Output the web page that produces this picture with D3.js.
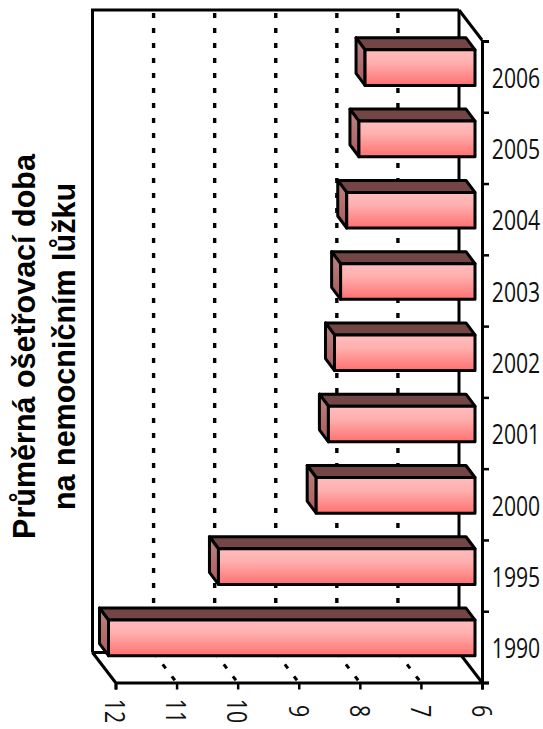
<!DOCTYPE html>
<html><head><meta charset="utf-8">
<script src="https://cdn.jsdelivr.net/npm/d3@7"></script>
<style>html,body{margin:0;padding:0;background:#fff}svg{display:block}</style></head>
<body><svg id="c" width="543" height="729"></svg>
<script>
const years = ["1990","1995","2000","2001","2002","2003","2004","2005","2006"];
const durations = [12,10.2,8.6,8.4,8.3,8.2,8.1,7.9,7.8];
const valueTicks = [12,11,10,9,8,7,6];
const gridValues = [11,10,9,8,7];
const titleLines = ["Průměrná ošetřovací doba","na nemocničním lůžku"];

const svg = d3.select("#c");
const x = d3.scaleLinear().domain([12,6]).range([115.5,482]);
const y = d3.scaleBand().domain(years).range([682.5,41]).paddingInner(0.5).paddingOuter(0.25);
const depth = {dx:-23, dy:-30};
const barFront = {dx:-7, dy:-9}, barBack = {dx:-16, dy:-21};
const plotTop = 40, plotBottom = 682.5;

const defs = svg.append("defs");
const g1 = defs.append("linearGradient").attr("id","front").attr("x1",0).attr("x2",0).attr("y1",0).attr("y2",1);
g1.append("stop").attr("offset",0).attr("stop-color","#ffbcbc");
g1.append("stop").attr("offset",0.35).attr("stop-color","#ffb0b0");
g1.append("stop").attr("offset",1).attr("stop-color","#ff7070");
const g2 = defs.append("linearGradient").attr("id","side").attr("x1",0).attr("x2",0).attr("y1",0).attr("y2",1);
g2.append("stop").attr("offset",0).attr("stop-color","#bb8484");
g2.append("stop").attr("offset",1).attr("stop-color","#ab5a5a");

const line = (x1,y1,x2,y2,w=3)=>svg.append("line").attr("x1",x1).attr("y1",y1).attr("x2",x2).attr("y2",y2)
  .attr("stroke","#000").attr("stroke-width",w);

// back wall + floor
line(x(12)+depth.dx,plotTop+depth.dy,x(12)+depth.dx,plotBottom+depth.dy);
line(x(12)+depth.dx-1.5,plotTop+depth.dy,x(6)+depth.dx,plotTop+depth.dy);
line(x(6)+depth.dx,plotTop+depth.dy,x(6)+depth.dx,plotBottom+depth.dy);
line(x(12)+depth.dx,plotBottom+depth.dy,x(12),plotBottom);
line(x(12)+depth.dx,plotBottom+depth.dy,x(6)+depth.dx,plotBottom+depth.dy);
line(x(6)+depth.dx,plotBottom+depth.dy,x(6),plotBottom);
line(x(6)+depth.dx,plotTop+depth.dy,x(6),plotTop);

// dotted gridlines on wall and floor
gridValues.forEach(v=>{
  line(x(v)+depth.dx,plotTop+depth.dy+3,x(v)+depth.dx,plotBottom+depth.dy).attr("stroke-dasharray","5 10").attr("stroke-width",3.4);
  line(x(v)+depth.dx,plotBottom+depth.dy,x(v),plotBottom).attr("stroke-dasharray","5 10").attr("stroke-width",3);
});

// axes
const yAxis = d3.axisRight(d3.scalePoint().domain(d3.range(10)).range([plotBottom,41])).tickSize(7).tickFormat("");
const ya = svg.append("g").attr("transform",`translate(${x(6)},0)`).call(yAxis);
ya.selectAll("path").attr("stroke","#000").attr("stroke-width",3);
ya.selectAll("line").attr("stroke","#000").attr("stroke-width",2.5);

const xAxis = d3.axisBottom(x).tickValues(valueTicks).tickSize(7).tickFormat("");
const xa = svg.append("g").attr("transform",`translate(0,${plotBottom})`).call(xAxis);
xa.selectAll("path").attr("stroke","#000").attr("stroke-width",3);
xa.selectAll("line").attr("stroke","#000").attr("stroke-width",2.5);

// bars
const bars = svg.append("g").selectAll("g").data(years).join("g");
const px = d=>`${d[0]},${d[1]}`;
bars.each(function(yr,i){
  const g = d3.select(this);
  const l = x(durations[i])+barFront.dx, r = x(6)+barFront.dx;
  const t = y(yr)+barFront.dy, b = t+y.bandwidth();
  const ox = barBack.dx-barFront.dx, oy = barBack.dy-barFront.dy;
  const common = s=>s.attr("stroke","#000").attr("stroke-width",3).attr("stroke-linejoin","round");
  common(g.append("polygon").attr("points",[[l,t],[l+ox,t+oy],[r+ox,t+oy],[r,t]].map(px).join(" ")).attr("fill","#734545"));
  common(g.append("polygon").attr("points",[[l,t],[l+ox,t+oy],[l+ox,b+oy],[l,b]].map(px).join(" ")).attr("fill","url(#side)"));
  common(g.append("rect").attr("x",l).attr("y",t).attr("width",r-l).attr("height",b-t).attr("fill","url(#front)"));
});

// labels
const labelFont = "'Open Sans',sans-serif";
svg.append("g").selectAll("text").data(years).join("text")
  .attr("transform",d=>`translate(516,${y(d)+y.bandwidth()/2+1.5}) scale(0.785,1)`)
  .attr("text-anchor","middle").attr("dy","0.36em")
  .attr("font-family",labelFont).attr("font-size",27).attr("fill","#111").text(d=>d);
svg.append("g").selectAll("text").data(valueTicks).join("text")
  .attr("transform",d=>`translate(${x(d)-0.5},711) rotate(90) scale(0.79,1)`)
  .attr("text-anchor","middle").attr("dy","0.36em")
  .attr("font-family",labelFont).attr("font-size",27).attr("fill","#111").text(d=>d);

svg.append("g").selectAll("text").data(titleLines).join("text")
  .attr("transform",(d,i)=>`translate(${34.5+i*40.5},346.5) rotate(-90)`)
  .attr("text-anchor","middle")
  .attr("font-family","'Liberation Sans',Arial,sans-serif").attr("font-weight","bold").attr("font-size",30.5).attr("fill","#000").text(d=>d);
</script></body></html>
